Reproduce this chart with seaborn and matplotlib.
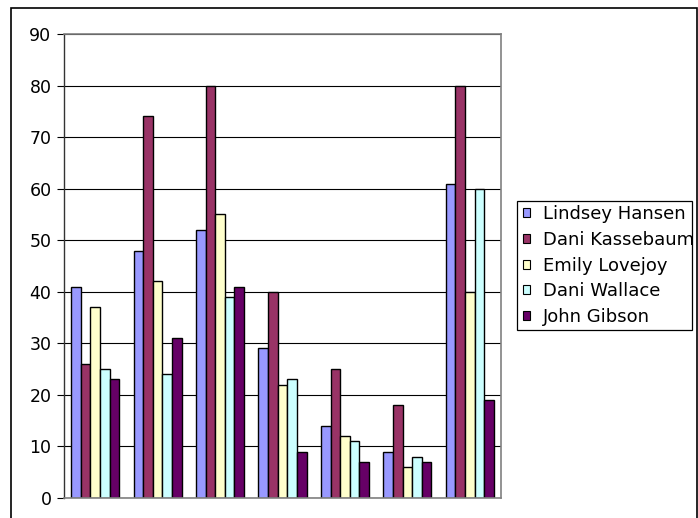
import matplotlib
matplotlib.use("Agg")
import matplotlib.pyplot as plt
from matplotlib.patches import Rectangle, Patch
import seaborn as sns
import pandas as pd

groups = ["1", "2", "3", "4", "5", "6", "7"]
series_names = ["Lindsey Hansen", "Dani Kassebaum", "Emily Lovejoy", "Dani Wallace", "John Gibson"]
lindsey_hansen = [41, 48, 52, 29, 14, 9, 61]
dani_kassebaum = [26, 74, 80, 40, 25, 18, 80]
emily_lovejoy = [37, 42, 55, 22, 12, 6, 40]
dani_wallace = [25, 24, 39, 23, 11, 8, 60]
john_gibson = [23, 31, 41, 9, 7, 7, 19]
colors = ["#9999FF", "#993366", "#FFFFCC", "#CCFFFF", "#660066"]
y_ticks = [0, 10, 20, 30, 40, 50, 60, 70, 80, 90]

series_values = [lindsey_hansen, dani_kassebaum, emily_lovejoy, dani_wallace, john_gibson]
rows = []
for name, vals in zip(series_names, series_values):
    for g, v in zip(groups, vals):
        rows.append({"group": g, "series": name, "value": v})
df = pd.DataFrame(rows)

sns.set_style("white")
plt.rcParams["font.family"] = ["DejaVu Sans"]
plt.rcParams["text.color"] = "black"
plt.rcParams["ytick.color"] = "black"
plt.rcParams["ytick.labelcolor"] = "black"

fig = plt.figure(figsize=(6.98, 5.18), dpi=100)
W, H = 698, 518
ax = fig.add_axes([64 / W, 1 - 498 / H, (501 - 64) / W, (498 - 34) / H])

sns.barplot(data=df, x="group", y="value", hue="series", order=groups,
            hue_order=series_names, palette=colors, width=5 / 6.5,
            edgecolor="black", linewidth=1.0, saturation=1, ax=ax,
            legend=False, errorbar=None)

ax.set_ylim(0, 90)
ax.set_xlim(-0.5, len(groups) - 0.5)
ax.set_yticks(y_ticks)
ax.set_yticklabels([str(t) for t in y_ticks], fontsize=12.5, color="black")
ax.set_xticks([])
ax.set_xlabel("")
ax.set_ylabel("")
ax.tick_params(axis="y", direction="out", length=5, width=0.8, color="black",
               labelcolor="black", pad=4, left=True)
ax.yaxis.grid(True, color="black", linewidth=0.8)
ax.set_axisbelow(True)
for side in ["top", "right", "bottom"]:
    ax.spines[side].set_color("#808080")
    ax.spines[side].set_linewidth(1.2)
ax.spines["left"].set_color("#333333")
ax.spines["left"].set_linewidth(1.0)

# outer chart frame
frame = Rectangle((11 / W, -0.1), (697 - 11) / W, 1.1 - 8 / H,
                  transform=fig.transFigure, fill=False, edgecolor="black",
                  linewidth=1.2, clip_on=False)
fig.patches.append(frame)

# legend
handles = [Patch(facecolor=c, edgecolor="black", linewidth=0.8) for c in colors]
leg = fig.legend(handles, series_names, loc="upper left",
                 bbox_to_anchor=(523 / W, 1 - 205 / H), frameon=False,
                 fontsize=13, handlelength=0.4, handleheight=0.4,
                 handletextpad=0.7, labelspacing=0.43, borderaxespad=0,
                 borderpad=0)
for t in leg.get_texts():
    t.set_color("black")
box = Rectangle((517 / W, 1 - 330 / H), (692 - 517) / W, (330 - 201) / H,
                transform=fig.transFigure, fill=False, edgecolor="black",
                linewidth=0.9)
fig.patches.append(box)
for t in leg.get_texts():
    t.set_clip_path(box)

fig.savefig("out.png", dpi=100)
